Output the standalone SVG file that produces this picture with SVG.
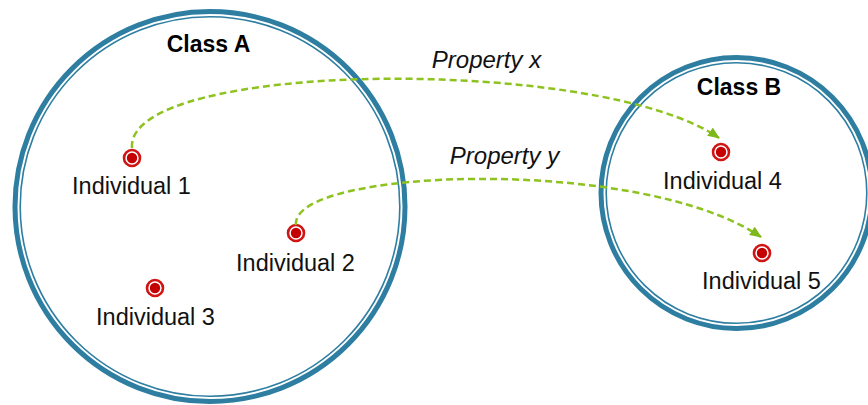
<svg xmlns="http://www.w3.org/2000/svg" width="868" height="405" viewBox="0 0 868 405">
  <style>
    .ring-outer { fill: none; stroke: #2e7ea2; stroke-width: 5; }
    .ring-inner { fill: none; stroke: #2e7ea2; stroke-width: 1.6; }
    .label { font-family: "Liberation Sans", Arial, sans-serif; font-size: 23.5px; fill: #111; text-anchor: middle; }
    .title { font-family: "Liberation Sans", Arial, sans-serif; font-size: 23px; font-weight: bold; fill: #000; text-anchor: middle; }
    .prop { font-family: "Liberation Sans", Arial, sans-serif; font-size: 24px; font-style: italic; fill: #111; text-anchor: middle; }
    .edge { fill: none; stroke: #8dc21f; stroke-width: 2.5; stroke-dasharray: 7 4; }
    .dot-ring { fill: #fff; stroke: #d11414; stroke-width: 2.6; }
    .dot-core { fill: #c40000; }
  </style>
  <defs>
    <marker id="arrow" viewBox="0 0 12 10" refX="11" refY="5" markerWidth="12" markerHeight="10" markerUnits="userSpaceOnUse" orient="auto">
      <path d="M0,0 L12,5 L0,10 Z" fill="#7fb81a"/>
    </marker>
    <g id="individual">
      <circle class="dot-ring" r="8"/>
      <circle class="dot-core" r="5.2"/>
    </g>
  </defs>

  <!-- Class A -->
  <g id="classA">
    <circle class="ring-outer" cx="210" cy="206.5" r="195"/>
    <circle class="ring-inner" cx="210" cy="206.5" r="189.8"/>
    <text class="title" x="208.5" y="52">Class A</text>
  </g>

  <!-- Class B -->
  <g id="classB">
    <circle class="ring-outer" cx="736.5" cy="193" r="135.5"/>
    <circle class="ring-inner" cx="736.5" cy="193" r="130.3"/>
    <text class="title" x="739" y="95">Class B</text>
  </g>

  <!-- Individuals -->
  <g id="individual1">
    <use href="#individual" x="132" y="158"/>
    <text class="label" x="131.5" y="194">Individual 1</text>
  </g>
  <g id="individual2">
    <use href="#individual" x="296" y="233"/>
    <text class="label" x="295.5" y="271">Individual 2</text>
  </g>
  <g id="individual3">
    <use href="#individual" x="155" y="288"/>
    <text class="label" x="155.5" y="325">Individual 3</text>
  </g>
  <g id="individual4">
    <use href="#individual" x="721" y="152"/>
    <text class="label" x="722.5" y="189">Individual 4</text>
  </g>
  <g id="individual5">
    <use href="#individual" x="762" y="253"/>
    <text class="label" x="761.5" y="289">Individual 5</text>
  </g>

  <!-- Property connectors -->
  <g id="connectors">
    <path class="edge" d="M132,148 C125,60 600,55 719,138" marker-end="url(#arrow)"/>
    <path class="edge" d="M296,225 C290,168 640,155 761,237" marker-end="url(#arrow)"/>
    <text class="prop" x="486.5" y="68">Property x</text>
    <text class="prop" x="504.5" y="164">Property y</text>
  </g>
</svg>
